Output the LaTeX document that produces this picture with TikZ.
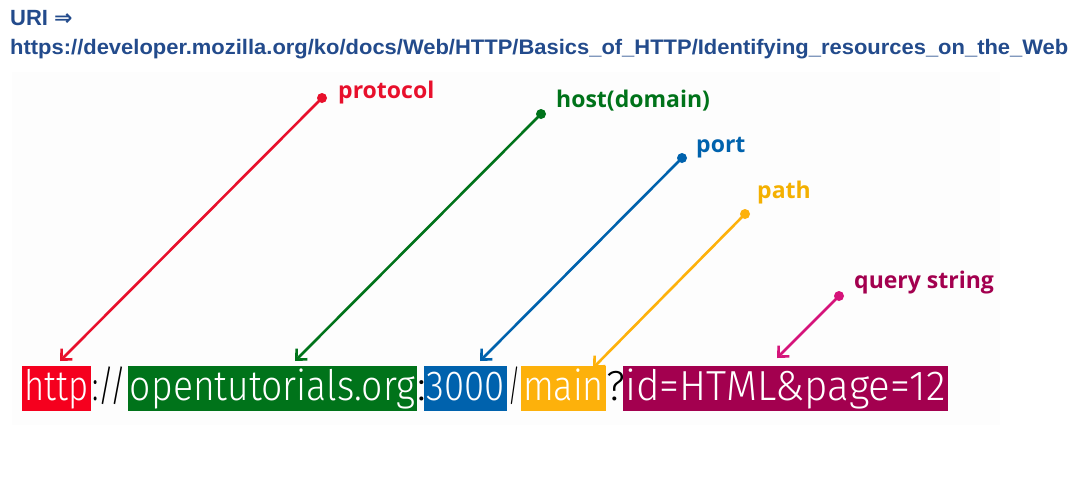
\documentclass[tikz,border=0pt]{standalone}
\usepackage{fontspec}
\usetikzlibrary{arrows.meta}
\setmainfont{Liberation Sans}
\newfontfamily\headfont{Liberation Sans}
\newfontfamily\symfont{DejaVu Sans}
\newfontfamily\labelfont{Open Sans}
\newfontfamily\urlfont{Fira Sans Light}

\definecolor{headblue}{HTML}{234B8C}
\definecolor{cproto}{HTML}{F5001E}
\definecolor{chost}{HTML}{00731A}
\definecolor{cport}{HTML}{0062AD}
\definecolor{cpath}{HTML}{FDB10B}
\definecolor{cquery}{HTML}{A3004F}
\definecolor{cqarrow}{HTML}{D5147A}
\definecolor{cprotoline}{HTML}{E8102C}
\definecolor{cpathlabel}{HTML}{F4B000}
\definecolor{panel}{HTML}{FDFDFD}

\tikzset{
  seg/.style={anchor=west, inner sep=0pt, outer sep=0pt,
    text height=35pt, text depth=10pt, font=\urlfont\fontsize{42}{42}\selectfont},
  segbox/.style={seg, text=white, fill=#1},
  sep/.style={seg, text=black},
  pointer/.style={line width=2.6pt, draw=#1, -{Straight Barb[length=8pt,width=15pt,line width=2.6pt]}},
  dot/.style={circle, fill=#1, inner sep=0pt, minimum size=10pt},
  tag/.style={anchor=west, inner sep=0pt, text=#1, font=\labelfont\bfseries\fontsize{23}{23}\selectfont},
  headline/.style={anchor=base west, inner sep=0pt, text=headblue, font=\headfont\bfseries\fontsize{21}{21}\selectfont},
}

\newcommand{\fitw}[2]{\resizebox{#1}{\height}{#2}}

\begin{document}
\begin{tikzpicture}[x=1pt,y=-1pt]
  \useasboundingbox[fill=white] (0,0) rectangle (1087,483);
  % faint panel behind the annotated URL
  \fill[panel] (12,72) rectangle (1000,425);

  % heading
  \node[headline, font=\headfont\bfseries\fontsize{22}{22}\selectfont] (h1) at (10,25) {URI {\symfont ⇒}};
  \node[headline] (h2) at (10,54)
    {\fitw{1058pt}{https://developer.mozilla.org/ko/docs/Web/HTTP/Basics\_of\_HTTP/Identifying\_resources\_on\_the\_Web}};

  % the URL, piece by piece
  \node[segbox=cproto, minimum width=69pt] (proto) at (22,388) {\fitw{64pt}{http}};
  \node[sep, minimum width=37pt] (s1) at (91,388) {\fitw{34pt}{://}};
  \node[segbox=chost, minimum width=289pt] (host) at (128,388) {\fitw{285pt}{opentutorials.org}};
  \node[sep, minimum width=7pt] (s2) at (417,388) {:};
  \node[segbox=cport, minimum width=83pt] (port) at (424,388) {\fitw{78pt}{3000}};
  \node[sep, minimum width=14pt] (s3) at (507,388) {\fitw{12pt}{/}};
  \node[segbox=cpath, minimum width=85pt] (path) at (521,388) {\fitw{81pt}{main}};
  \node[sep, minimum width=17pt] (s4) at (606,388) {?};
  \node[segbox=cquery, minimum width=325pt] (query) at (623,388) {\fitw{320pt}{id=HTML\&page=12}};

  % pointer start dots
  \node[dot=cprotoline] (dproto) at (322,98) {};
  \node[dot=chost] (dhost) at (541,114) {};
  \node[dot=cport] (dport) at (682,158) {};
  \node[dot=cpath] (dpath) at (745,214) {};
  \node[dot=cqarrow] (dquery) at (839,296) {};

  % arrow tips just above the boxes
  \coordinate (tproto) at (60,361);
  \coordinate (thost) at (295,361);
  \coordinate (tport) at (480,361);
  \coordinate (tpath) at (593,368);
  \coordinate (tquery) at (777,358);

  \draw[pointer=cprotoline] (dproto.center) -- (tproto);
  \draw[pointer=chost] (dhost.center) -- (thost);
  \draw[pointer=cport] (dport.center) -- (tport);
  \draw[pointer=cpath] (dpath.center) -- (tpath);
  \draw[pointer=cqarrow] (dquery.center) -- (tquery);

  % labels
  \node[tag=cprotoline] (lproto) at (338,93) {protocol};
  \node[tag=chost] (lhost) at (556,101) {host(domain)};
  \node[tag=cport] (lport) at (696,148) {port};
  \node[tag=cpathlabel] (lpath) at (757,193) {path};
  \node[tag=cquery] (lquery) at (854,283) {query string};
\end{tikzpicture}
\end{document}
